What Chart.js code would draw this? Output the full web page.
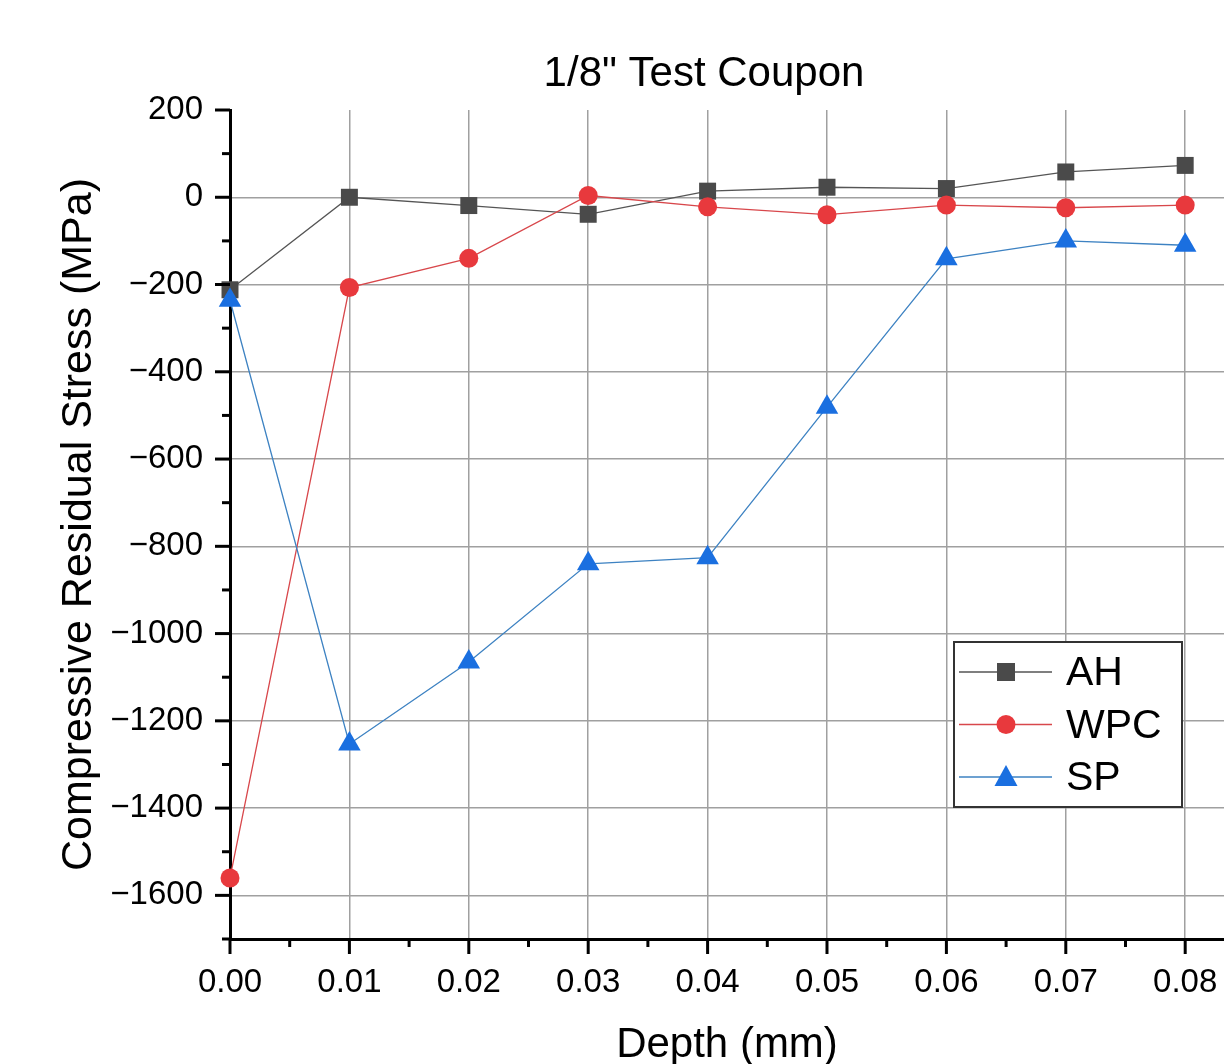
<!DOCTYPE html>
<html>
<head>
<meta charset="utf-8">
<script src="https://cdn.jsdelivr.net/npm/chart.js@4/dist/chart.umd.min.js"></script>
<style>
  html, body { margin: 0; padding: 0; background: #fff; }
  #wrap { width: 1224px; height: 1064px; position: relative; }
</style>
</head>
<body>
<div id="wrap"><canvas id="c" width="1224" height="1064"></canvas></div>
<script>
// ---- Data ----
const depths = [0.00, 0.01, 0.02, 0.03, 0.04, 0.05, 0.06, 0.07, 0.08];
const seriesNames = ['AH', 'WPC', 'SP'];
const ahValues  = [-212, 0, -19, -39, 14, 23, 20, 58, 73];
const wpcValues = [-1560, -207, -140, 4, -22, -40, -18, -24, -18];
const spValues  = [-236, -1253, -1065, -840, -826, -481, -141, -100, -110];
const xTickLabels = ['0.00', '0.01', '0.02', '0.03', '0.04', '0.05', '0.06', '0.07', '0.08'];
const yTickLabels = ['200', '0', '-200', '-400', '-600', '-800', '-1000', '-1200', '-1400', '-1600'];
const chartTitle = '1/8" Test Coupon';
const xTitle = 'Depth (mm)';
const yTitle = 'Compressive Residual Stress (MPa)';

const FONT = '"Liberation Sans", Arial, Helvetica, sans-serif';
const styles = [
  { line: '#555555', fill: '#4a4a4a', shape: 'rect', r: 12 },
  { line: '#d8474b', fill: '#e8393d', shape: 'circle', r: 9.5 },
  { line: '#3d82c2', fill: '#1a6fe0', shape: 'triangle', r: 13 }
];
const valueSets = [ahValues, wpcValues, spValues];

const datasets = seriesNames.map((name, i) => ({
  label: name,
  data: depths.map((d, j) => ({ x: d, y: valueSets[i][j] })),
  borderColor: styles[i].line,
  borderWidth: 1.3,
  backgroundColor: styles[i].fill,
  pointBackgroundColor: styles[i].fill,
  pointBorderColor: styles[i].fill,
  pointBorderWidth: 0,
  pointStyle: styles[i].shape,
  pointRadius: styles[i].r,
  pointHoverRadius: styles[i].r,
  tension: 0,
  clip: false,
  order: 2 - i
}));

const yMajor = yTickLabels.map(s => Number(s));
const xMajor = xTickLabels.map(s => Number(s));
function isYMajor(v) { return yMajor.some(m => Math.abs(m - v) < 1e-6); }
function isXMajor(v) { return xMajor.some(m => Math.abs(m - v) < 1e-9); }

const axisTicksPlugin = {
  id: 'axisTicks',
  afterDraw(chart) {
    const { ctx, chartArea: ca, scales } = chart;
    ctx.save();
    ctx.strokeStyle = '#000';
    ctx.lineWidth = 3;
    ctx.lineCap = 'butt';
    scales.y.ticks.forEach(t => {
      const y = scales.y.getPixelForValue(t.value);
      const len = isYMajor(t.value) ? 15 : 8;
      ctx.beginPath(); ctx.moveTo(ca.left - len, y); ctx.lineTo(ca.left, y); ctx.stroke();
    });
    scales.x.ticks.forEach(t => {
      const x = scales.x.getPixelForValue(t.value);
      const len = isXMajor(t.value) ? 15 : 8;
      ctx.beginPath(); ctx.moveTo(x, ca.bottom); ctx.lineTo(x, ca.bottom + len); ctx.stroke();
    });
    // title
    ctx.fillStyle = '#000';
    ctx.font = '42px ' + FONT;
    ctx.textAlign = 'center';
    ctx.textBaseline = 'alphabetic';
    ctx.fillText(chartTitle, ca.left + 474, 86);
    // legend
    const lx = 954, ly = 642, lw = 228, lh = 165;
    ctx.fillStyle = '#fff';
    ctx.fillRect(lx, ly, lw, lh);
    ctx.strokeStyle = '#333';
    ctx.lineWidth = 2;
    ctx.strokeRect(lx, ly, lw, lh);
    chart.data.datasets.forEach((ds, i) => {
      const cy = ly + 30 + i * 52.5;
      ctx.strokeStyle = ds.borderColor;
      ctx.lineWidth = 1.3;
      ctx.beginPath(); ctx.moveTo(lx + 5, cy); ctx.lineTo(lx + 98, cy); ctx.stroke();
      const mx = lx + 52;
      ctx.fillStyle = ds.pointBackgroundColor;
      ctx.beginPath();
      if (ds.pointStyle === 'rect') {
        ctx.rect(mx - 9, cy - 9, 18, 18);
      } else if (ds.pointStyle === 'circle') {
        ctx.arc(mx, cy, 9.5, 0, Math.PI * 2);
      } else {
        ctx.moveTo(mx, cy - 12); ctx.lineTo(mx + 11.5, cy + 9); ctx.lineTo(mx - 11.5, cy + 9); ctx.closePath();
      }
      ctx.fill();
      ctx.fillStyle = '#000';
      ctx.font = '41px ' + FONT;
      ctx.textAlign = 'left';
      ctx.textBaseline = 'middle';
      ctx.fillText(ds.label, lx + 112, cy + 2);
    });
    ctx.restore();
  }
};

new Chart(document.getElementById('c'), {
  type: 'line',
  data: { datasets },
  plugins: [axisTicksPlugin],
  options: {
    responsive: false,
    animation: false,
    devicePixelRatio: 1,
    layout: { autoPadding: false, padding: { top: 110, right: 0, bottom: 0, left: 0 } },
    plugins: { legend: { display: false }, title: { display: false }, tooltip: { enabled: false } },
    scales: {
      x: {
        type: 'linear',
        min: 0,
        max: 0.08325,
        afterBuildTicks(scale) {
          const t = [];
          for (let i = 0; i <= 16; i++) t.push({ value: Math.round(i * 5) / 1000 });
          scale.ticks = t;
        },
        afterFit(scale) {
          scale.height = 125;
          scale.paddingLeft = 0;
          scale.paddingRight = 0;
        },
        ticks: {
          autoSkip: false,
          maxRotation: 0,
          padding: 24,
          color: '#000',
          font: { family: FONT, size: 33 },
          callback(v) {
            const idx = xMajor.findIndex(m => Math.abs(m - v) < 1e-9);
            return idx >= 0 ? xTickLabels[idx] : '';
          }
        },
        grid: {
          drawTicks: false,
          lineWidth: 1.5,
          color(ctx) {
            const v = ctx.tick ? ctx.tick.value : 0;
            return (isXMajor(v) && v > 0) ? '#a0a0a0' : 'rgba(0,0,0,0)';
          }
        },
        border: { display: true, color: '#000', width: 3 },
        title: {
          display: true,
          text: xTitle,
          color: '#000',
          font: { family: FONT, size: 42, lineHeight: 0.9 },
          padding: { top: 0, bottom: 0 }
        }
      },
      y: {
        type: 'linear',
        min: -1700,
        max: 200,
        afterBuildTicks(scale) {
          const t = [];
          for (let v = -1700; v <= 200; v += 100) t.push({ value: v });
          scale.ticks = t;
        },
        afterFit(scale) {
          scale.width = 230;
          scale.paddingTop = 0;
          scale.paddingBottom = 0;
        },
        ticks: {
          autoSkip: false,
          padding: 27,
          color: '#000',
          font: { family: FONT, size: 33 },
          callback(v) {
            const idx = yMajor.findIndex(m => Math.abs(m - v) < 1e-6);
            return idx >= 0 ? yTickLabels[idx].replace('-', '\u2212') : '';
          }
        },
        grid: {
          drawTicks: false,
          lineWidth: 1.5,
          color(ctx) {
            const v = ctx.tick ? ctx.tick.value : 0;
            return (isYMajor(v) && v < 200) ? '#a0a0a0' : 'rgba(0,0,0,0)';
          }
        },
        border: { display: true, color: '#000', width: 3 },
        title: {
          display: true,
          text: yTitle,
          color: '#000',
          font: { family: FONT, size: 43, lineHeight: 0.9 },
          padding: { top: 60, bottom: 0 }
        }
      }
    }
  }
});
</script>
</body>
</html>
